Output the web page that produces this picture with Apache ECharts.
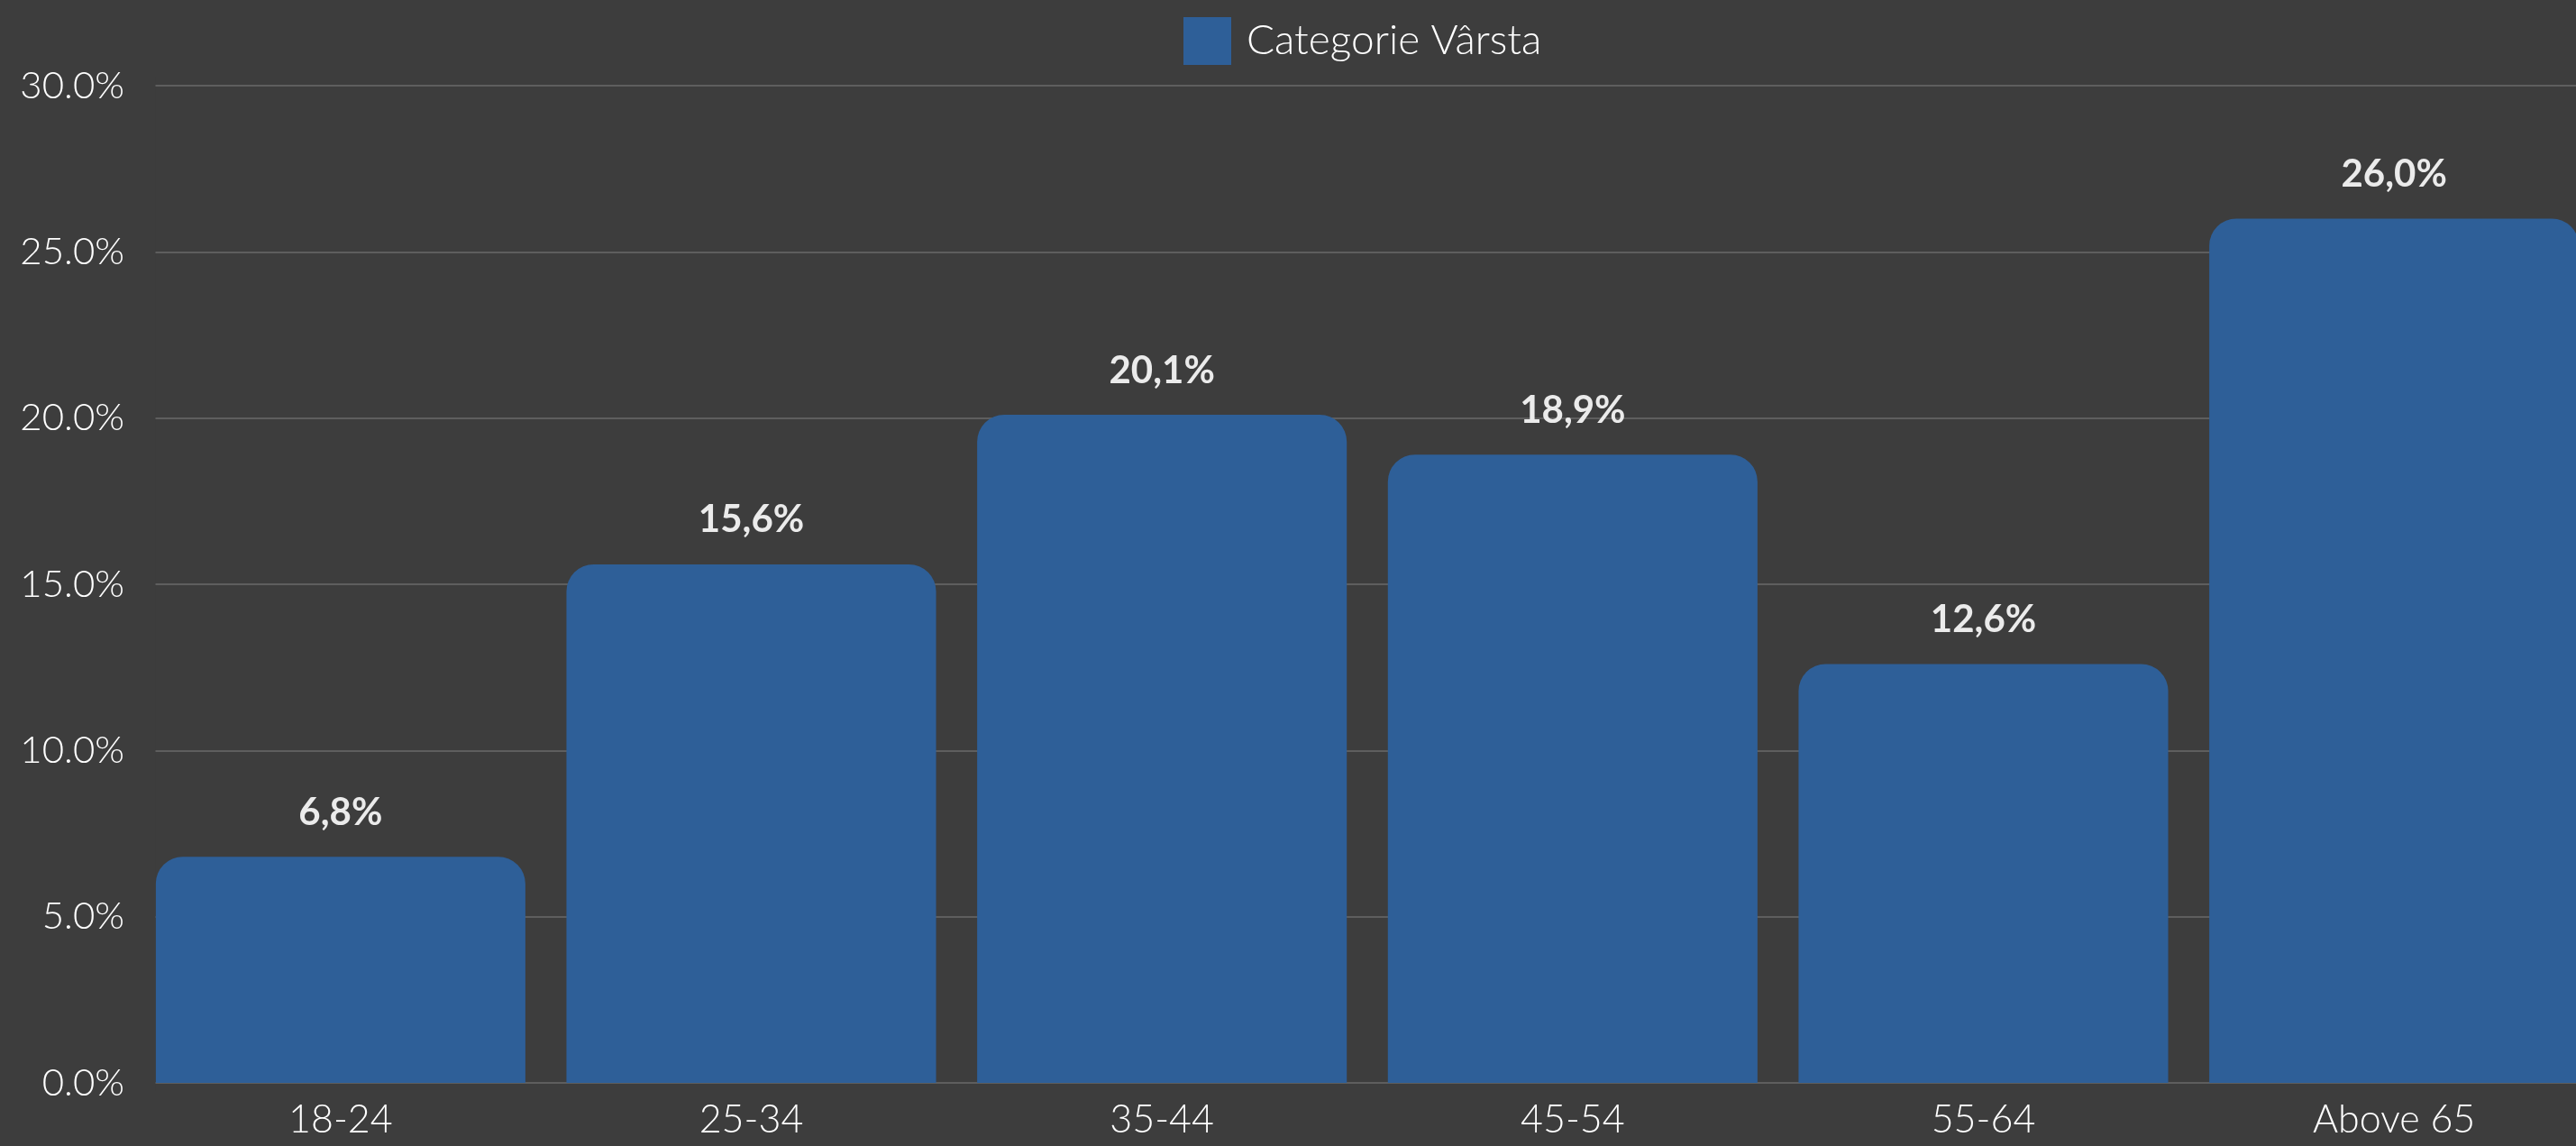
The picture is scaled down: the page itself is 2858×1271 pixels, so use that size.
<!DOCTYPE html>
<html>
<head>
<meta charset="utf-8">
<script src="https://cdn.jsdelivr.net/npm/echarts@6/dist/echarts.min.js"></script>
<style>
	html, body { margin: 0; padding: 0; background: #3d3d3d; }
	#chart { width: 2858px; height: 1271px; }
</style>
</head>
<body>
<div id="chart"></div>
<script>
	// date
	var categories = ['18-24', '25-34', '35-44', '45-54', '55-64', 'Above 65'];
	var values = [6.8, 15.6, 20.1, 18.9, 12.6, 26.0];
	var seriesName = 'Categorie Vârsta';
	var yTicks = { min: 0, max: 30, interval: 5 };

	var bg = '#3d3d3d';
	var chart = echarts.init(document.getElementById('chart'));
	var option = {
		backgroundColor: bg,
		animation: false,
		textStyle: { fontFamily: 'Lato, "Open Sans", sans-serif' },
		legend: {
			data: [seriesName],
			left: 1308,
			top: 14,
			icon: 'rect',
			itemWidth: 53,
			itemHeight: 53,
			itemGap: 16,
			textStyle: { color: '#ffffff', fontSize: 46, fontWeight: 300, padding: [0, 0, 0, 12] }
		},
		grid: {
			left: 150,
			right: -26,
			top: 95,
			bottom: 70,
			containLabel: false,
			outerBoundsMode: 'none'
		},
		// gridlines start at the first bar in the original
		graphic: [{
			type: 'rect',
			z: 100,
			silent: true,
			shape: { x: 140, y: 85, width: 32.5, height: 1125 },
			style: { fill: bg }
		}],
		xAxis: {
			type: 'category',
			data: categories,
			axisTick: { show: false },
			axisLine: { show: false },
			axisLabel: { color: '#ffffff', fontSize: 43, fontWeight: 300, margin: 20 }
		},
		yAxis: {
			type: 'value',
			min: yTicks.min,
			max: yTicks.max,
			interval: yTicks.interval,
			axisLine: { show: false },
			axisTick: { show: false },
			splitLine: { lineStyle: { color: '#6a6a6a', width: 1.5 } },
			axisLabel: {
				color: '#ffffff',
				fontSize: 42,
				fontWeight: 300,
				margin: 12,
				formatter: function (v) { return v.toFixed(1) + '%'; }
			}
		},
		series: [{
			name: seriesName,
			type: 'bar',
			data: values,
			barCategoryGap: '10%',
			itemStyle: { color: '#2e5f98', borderRadius: [30, 30, 0, 0] },
			label: {
				show: true,
				position: 'top',
				distance: 28,
				color: '#ebebeb',
				fontSize: 42,
				fontWeight: 'bold',
				formatter: function (p) { return p.value.toFixed(1).replace('.', ',') + '%'; }
			}
		}]
	};
	chart.setOption(option);
</script>
</body>
</html>
